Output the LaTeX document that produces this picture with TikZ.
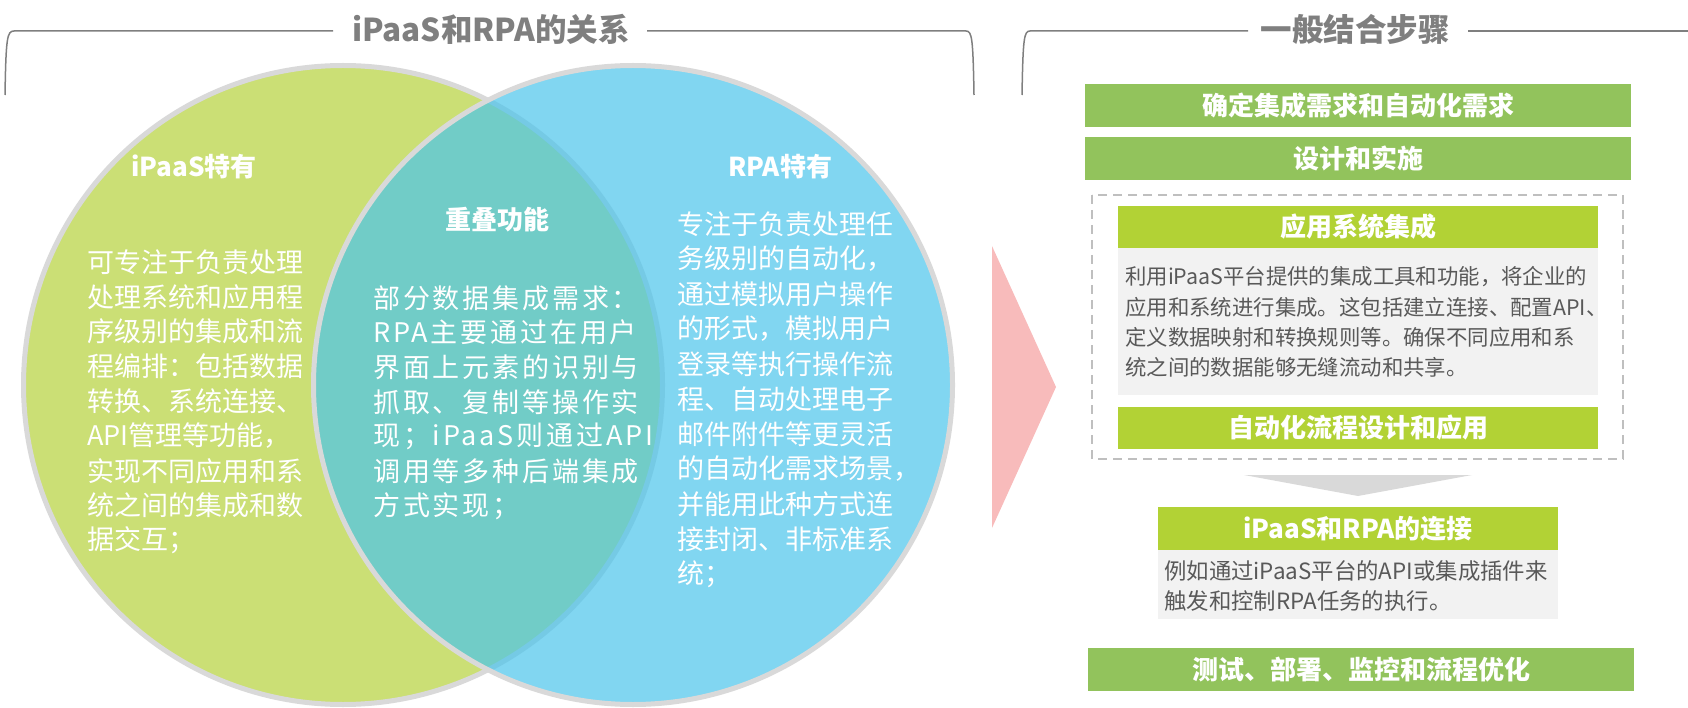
\documentclass[tikz,border=0pt]{standalone}
\usepackage{fontspec}
\setmainfont{Noto Sans CJK SC}
\newfontfamily\midfont[LetterSpace=10.5]{Noto Sans CJK SC}
\definecolor{ipaasgreen}{RGB}{203,223,117}
\definecolor{rpablue}{RGB}{75,196,235}
\definecolor{ringgray}{RGB}{217,217,217}
\definecolor{titlegray}{RGB}{127,127,127}
\definecolor{arrowpink}{RGB}{248,187,187}
\definecolor{stepgreen}{RGB}{146,195,92}
\definecolor{limegreen}{RGB}{178,210,53}
\definecolor{bodygray}{RGB}{242,242,242}
\definecolor{textgray}{RGB}{89,89,89}
\definecolor{dashgray}{RGB}{191,191,191}
\tikzset{
  bodytext/.style={anchor=west, inner sep=0pt, text=white, font=\fontsize{27}{27}\selectfont},
  headtext/.style={inner sep=0pt, text=white, font=\fontsize{26}{26}\selectfont\bfseries},
  title/.style={inner sep=0pt, text=titlegray, font=\fontsize{31.5}{31.5}\selectfont\bfseries},
  bracket/.style={draw=titlegray, line width=1.5pt},
  stepbar/.style={fill=stepgreen, text=white, minimum width=546pt, minimum height=43pt,
    inner sep=0pt, font=\fontsize{26}{26}\selectfont\bfseries},
  subhead/.style={fill=limegreen, text=white, minimum height=42pt,
    inner sep=0pt, font=\fontsize{26}{26}\selectfont\bfseries},
  subbody/.style={fill=bodygray, anchor=north, inner sep=0pt},
  boxtext/.style={anchor=west, inner sep=0pt, text=textgray, font=\fontsize{21.4}{21.4}\selectfont}
}
\begin{document}
\begin{tikzpicture}[x=1pt,y=-1pt]
  \useasboundingbox (0,0) rectangle (1688,708);
  % titles and brackets
  \node[title] (ltitle) at (491,29) {iPaaS和RPA的关系};
  \node[title] (rtitle) at (1355,29) {一般结合步骤};
  \draw[bracket] (5,95) .. controls (6,38) and (7,31) .. (14,31) -- (333,31);
  \draw[bracket] (647,31) -- (966,31) .. controls (972,31) and (973,38) .. (974,95);
  \draw[bracket] (1022,95) .. controls (1023,38) and (1024,31) .. (1030,31) -- (1248,31);
  \draw[bracket] (1468,31) -- (1688,31);
  % venn
  \draw[fill=ipaasgreen, draw=ringgray, line width=5pt] (343,385) circle[radius=319.5pt];
  \draw[fill=rpablue, fill opacity=0.7, draw=ringgray, line width=5pt] (633,385) circle[radius=319.5pt];
  \node[headtext] (lhead) at (194,167) {iPaaS特有};
  \node[headtext] (mhead) at (497,220) {重叠功能};
  \node[headtext] (rhead) at (780,167) {RPA特有};
  \foreach \i/\t in {0/可专注于负责处理, 1/处理系统和应用程, 2/序级别的集成和流,
      3/程编排：包括数据, 4/转换、系统连接、, 5/API管理等功能，,
      6/实现不同应用和系, 7/统之间的集成和数, 8/据交互；} {
    \node[bodytext] (lt\i) at (87,262+34.8*\i) {\t};
  }
  \foreach \i/\t in {0/部分数据集成需求：, 1/RPA主要通过在用户, 2/界面上元素的识别与,
      3/抓取、复制等操作实, 4/现；iPaaS则通过API, 5/调用等多种后端集成,
      6/方式实现；} {
    \node[bodytext, font=\fontsize{27}{27}\midfont] (mt\i) at (373,298+34.7*\i) {\t};
  }
  \foreach \i/\t in {0/专注于负责处理任, 1/务级别的自动化，, 2/通过模拟用户操作,
      3/的形式，模拟用户, 4/登录等执行操作流, 5/程、自动处理电子,
      6/邮件附件等更灵活, 7/的自动化需求场景，, 8/并能用此种方式连,
      9/接封闭、非标准系, 10/统；} {
    \node[bodytext] (rt\i) at (677,224+35*\i) {\t};
  }
  \fill[arrowpink] (992,246) -- (1056,387) -- (992,528) -- cycle;
  % steps
  \node[stepbar] (s1) at (1358,105.5) {确定集成需求和自动化需求};
  \node[stepbar] (s2) at (1358,158.5) {设计和实施};
  \draw[dashgray, line width=2pt, dash pattern=on 9pt off 6pt] (1092,195) rectangle (1623,459);
  \node[subhead, minimum width=480pt] (h1) at (1358,227) {应用系统集成};
  \node[subbody, minimum width=480pt, minimum height=147pt] (b1) at (h1.south) {};
  \foreach \i/\t in {0/利用iPaaS平台提供的集成工具和功能，将企业的,
      1/应用和系统进行集成。这包括建立连接、配置API、,
      2/定义数据映射和转换规则等。确保不同应用和系,
      3/统之间的数据能够无缝流动和共享。} {
    \node[boxtext] (bt\i) at (1125,277+30*\i) {\t};
  }
  \node[subhead, minimum width=480pt] (h2) at (1358,428) {自动化流程设计和应用};
  \fill[ringgray] (1244,475) -- (1472,475) -- (1358,496) -- cycle;
  \node[subhead, minimum width=400pt, minimum height=43pt] (h3) at (1358,528.5) {iPaaS和RPA的连接};
  \node[subbody, minimum width=400pt, minimum height=69pt] (b3) at (h3.south) {};
  \foreach \i/\t in {0/例如通过iPaaS平台的API或集成插件来, 1/触发和控制RPA任务的执行。} {
    \node[boxtext, font=\fontsize{22.4}{22.4}\selectfont] (ct\i) at (1164,571+29.5*\i) {\t};
  }
  \node[stepbar] (s4) at (1361,669.5) {测试、部署、监控和流程优化};
\end{tikzpicture}
\end{document}
